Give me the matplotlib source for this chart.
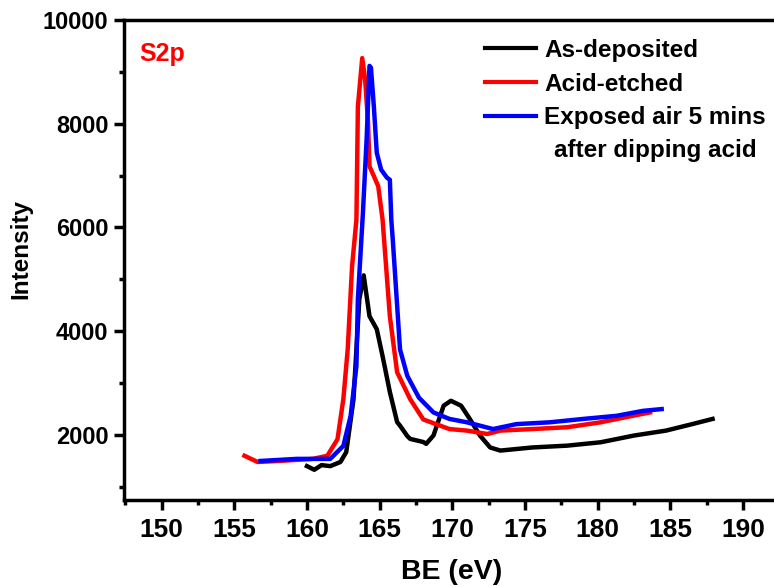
import matplotlib
matplotlib.use("Agg")
import matplotlib.pyplot as plt
from matplotlib.ticker import MultipleLocator

# =========================
# DATA
# =========================

x_dep = [160.0, 160.5, 161.0, 161.6, 162.3, 162.7, 163.2, 163.4, 163.6, 163.9,
         164.3, 164.8, 165.2, 165.7, 166.2, 166.4, 166.9, 167.1, 168.0, 168.2,
         168.7, 169.4, 169.9, 170.6, 171.2, 171.9, 172.6, 173.3, 175.5, 177.9,
         180.2, 182.5, 184.7, 186.5, 187.9]
y_dep = [1400, 1330, 1420, 1400, 1480, 1670, 2690, 3650, 4615, 5077,
         4290, 4040, 3520, 2830, 2250, 2180, 1980, 1925, 1865, 1830,
         1990, 2565, 2660, 2565, 2310, 1990, 1760, 1700, 1760, 1795,
         1860, 1990, 2085, 2210, 2310]

x_etch = [155.7, 156.6, 158.1, 160.4, 161.4, 162.1, 162.5, 162.8, 163.1, 163.4,
          163.5, 163.8, 164.0, 164.2, 164.3, 164.6, 164.9, 165.2, 165.7, 166.2,
          167.1, 168.0, 169.8, 171.0, 172.4, 173.3, 175.5, 177.9, 180.2, 182.4,
          183.6]
y_etch = [1600, 1480, 1500, 1540, 1600, 1920, 2690, 3650, 5250, 6150,
          8330, 9265, 8850, 8020, 7180, 6990, 6795, 6150, 4290, 3210,
          2690, 2300, 2115, 2085, 2020, 2085, 2115, 2150, 2245, 2370,
          2435]

x_air = [156.8, 159.3, 161.6, 162.5, 163.0, 163.4, 163.5, 163.85, 164.1, 164.3,
         164.4, 164.6, 164.8, 165.1, 165.5, 165.7, 165.8, 165.9, 166.4, 166.9,
         167.7, 168.7, 169.8, 171.0, 172.8, 174.4, 176.7, 179.0, 181.3, 183.1,
         184.4]
y_air = [1500, 1540, 1540, 1790, 2365, 3330, 4615, 6300, 7690, 9115,
         9080, 8330, 7440, 7115, 6960, 6920, 6150, 5770, 3650, 3140,
         2720, 2435, 2310, 2245, 2115, 2210, 2245, 2310, 2370, 2465,
         2500]

LABELS = ["As-deposited", "Acid-etched", "Exposed air 5 mins"]
COLORS = ["black", "red", "blue"]

# =========================
# PLOT
# =========================

plt.rcParams["font.family"] = ["Liberation Sans", "DejaVu Sans"]
plt.rcParams["font.weight"] = "bold"

fig = plt.figure(figsize=(7.74, 5.87), dpi=100)
ax = fig.add_axes([0.160, 0.148, 0.847, 0.818])

for xs, ys, lab, col in zip([x_dep, x_etch, x_air], [y_dep, y_etch, y_air], LABELS, COLORS):
    ax.plot(xs, ys, color=col, lw=3.2, label=lab)

ax.set_xlim(147.4, 192.5)
ax.set_ylim(745, 10000)
ax.xaxis.set_major_locator(MultipleLocator(5))
ax.xaxis.set_minor_locator(MultipleLocator(2.5))
ax.yaxis.set_major_locator(MultipleLocator(2000))
ax.yaxis.set_minor_locator(MultipleLocator(1000))

for s in ax.spines.values():
    s.set_linewidth(2.5)
ax.spines["right"].set_visible(False)
ax.tick_params(which="major", length=7, width=2.5, direction="out")
ax.tick_params(which="minor", length=3.5, width=2.5, direction="out")
ax.tick_params(axis="x", labelsize=19, pad=6)
ax.tick_params(axis="y", labelsize=17, pad=4)
for t in ax.get_xticklabels() + ax.get_yticklabels():
    t.set_fontweight("bold")

ax.set_xlabel("BE (eV)", fontsize=20.5, fontweight="bold", labelpad=12)
ax.set_ylabel("Intensity", fontsize=17.5, fontweight="bold", labelpad=7)
ax.yaxis.set_label_coords(-0.14, 0.523)

ax.text(0.024, 0.955, "S2p", transform=ax.transAxes, color="red",
        fontsize=18, fontweight="bold", va="top", ha="left")

leg = ax.legend(loc="upper left", bbox_to_anchor=(485 / 774, 1 - 39 / 587),
                bbox_transform=fig.transFigure, frameon=False, fontsize=17.5,
                handlelength=2.1, handletextpad=0.33, labelspacing=0.44,
                borderpad=0, borderaxespad=0)
for line in leg.get_lines():
    line.set_linewidth(3)
fig.text(655 / 774, 1 - 150 / 587, "after dipping acid", fontsize=17.5,
         fontweight="bold", ha="center", va="center")

plt.savefig("out.png", dpi=100)
plt.close()
